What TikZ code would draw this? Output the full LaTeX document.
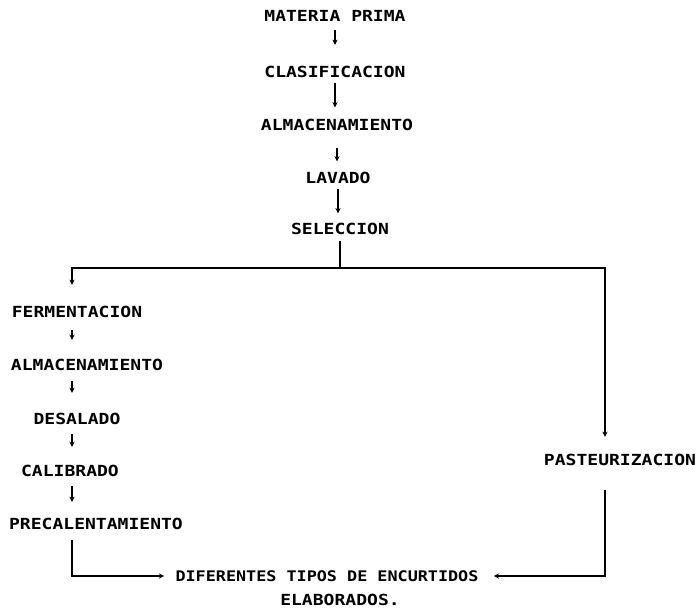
\documentclass[tikz,border=0pt]{standalone}
\usepackage{fontspec}
\usepackage{tikz}
\usetikzlibrary{arrows.meta}
\newfontfamily\matriz{DejaVu Sans Mono}[FakeStretch=1.18]
\newfontfamily\matrizfina{DejaVu Sans Mono}[FakeStretch=1.15]

\begin{document}
\begin{tikzpicture}[x=0.02cm,y=-0.02cm,
    paso/.style={inner sep=0pt,text height=6pt,text depth=0pt,
                 font=\matriz\bfseries\fontsize{8.7}{10}\selectfont},
    pasofino/.style={paso,font=\matrizfina\bfseries\fontsize{8.3}{10}\selectfont},
    linea/.style={line width=0.7pt},
    flecha/.style={linea,-{Stealth[length=3pt,width=3pt]}}]
    \useasboundingbox (0,0) rectangle (700,612);

    % linea principal
    \node[paso] (mp)   at (335,16)  {MATERIA PRIMA};
    \node[paso] (cla)  at (335,72)  {CLASIFICACION};
    \node[paso] (alm)  at (337,125) {ALMACENAMIENTO};
    \node[paso] (lav)  at (338,178) {LAVADO};
    \node[paso] (sel)  at (340,229) {SELECCION};

    % rama izquierda
    \node[paso] (ferm)  at (77,312)  {FERMENTACION};
    \node[paso] (alm2)  at (87,365)  {ALMACENAMIENTO};
    \node[paso] (desal) at (77,419)  {DESALADO};
    \node[paso] (calib) at (70,471)  {CALIBRADO};
    \node[paso] (prec)  at (96,524)  {PRECALENTAMIENTO};

    % rama derecha y producto
    \node[paso] (past) at (620,460) {PASTEURIZACION};
    \node[pasofino] (dif)  at (327,576) {DIFERENTES TIPOS DE ENCURTIDOS};
    \node[paso] (elab) at (340,600) {ELABORADOS.};

    \coordinate (izq) at (72,268);
    \coordinate (der) at (605,268);

    \draw[flecha,shorten <=0.16cm,shorten >=0.43cm] (mp.south) -- (mp.south |- cla.north);
    \draw[flecha,shorten <=0.10cm,shorten >=0.24cm] (cla.south) -- (cla.south |- alm.north);
    \draw[flecha,shorten <=0.34cm,shorten >=0.22cm] (alm.south) -- (alm.south |- lav.north);
    \draw[flecha,shorten <=0.10cm,shorten >=0.20cm] (lav.south) -- (lav.south |- sel.north);

    % separacion
    \draw[linea,shorten <=0.12cm] (sel.south) -- (sel.south |- izq);
    \draw[linea,{Stealth[length=3pt,width=3pt]}-{Stealth[length=3pt,width=3pt]},
          shorten <=0.43cm,shorten >=0.35cm]
      (ferm.north -| izq) -- (izq) -- (der) -- (past.north -| der);

    \draw[flecha,shorten <=0.25cm,shorten >=0.39cm] (ferm.south -| izq) -- (alm2.north -| izq);
    \draw[flecha,shorten <=0.21cm,shorten >=0.41cm] (alm2.south -| izq) -- (desal.north -| izq);
    \draw[flecha,shorten <=0.19cm,shorten >=0.37cm] (desal.south -| izq) -- (calib.north -| izq);
    \draw[flecha,shorten <=0.19cm,shorten >=0.33cm] (calib.south -| izq) -- (prec.north -| izq);

    % union final
    \draw[flecha,shorten <=0.21cm,shorten >=0.22cm] (prec.south -| izq) |- (dif.west);
    \draw[flecha,shorten <=0.49cm,shorten >=0.30cm] (past.south -| der) |- (dif.east);
\end{tikzpicture}
\end{document}
